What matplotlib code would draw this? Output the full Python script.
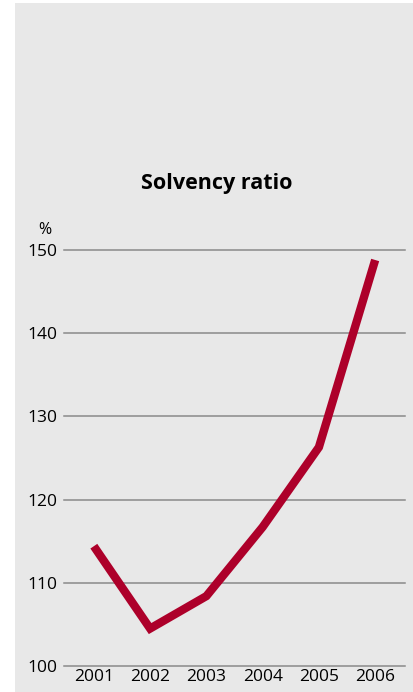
import matplotlib
matplotlib.use("Agg")
import matplotlib.pyplot as plt
from matplotlib.patches import Rectangle

years = [2001, 2002, 2003, 2004, 2005, 2006]
solvency = [114.4, 104.5, 108.4, 116.7, 126.3, 148.8]
yticks = [100, 110, 120, 130, 140, 150]
title = "Solvency ratio"
unit = "%"

W, H = 414, 692
fig = plt.figure(figsize=(W / 100, H / 100), dpi=100)
fig.patch.set_facecolor("white")
fig.patches.append(Rectangle((15 / W, -0.01), 1.0, 1.01 - 3 / H,
                             transform=fig.transFigure, facecolor="#e8e8e8",
                             edgecolor="none", zorder=-10))

font = "Open Sans"
ax = fig.add_axes([64 / W, 26 / H, (405 - 64) / W, (666 - 250) / H])
ax.set_zorder(1)
ax.set_facecolor("none")
ax.set_xlim(2000.47, 2006.53)
ax.set_ylim(100, 150)
for s in ax.spines.values():
    s.set_visible(False)
for y in yticks:
    ax.axhline(y, color="#8a8a8a", lw=1.1, clip_on=False, zorder=1)
ax.plot(years, solvency, color="#ad002a", lw=6, solid_capstyle="butt",
        solid_joinstyle="miter", clip_on=False, zorder=3)
ax.set_yticks(yticks)
ax.set_yticklabels([str(v) for v in yticks], fontfamily=font, fontsize=12.5)
ax.set_xticks(years)
ax.set_xticklabels([str(v) for v in years], fontfamily=font, fontsize=12.5)
ax.tick_params(axis="both", length=0, colors="black")
ax.tick_params(axis="y", pad=5)
ax.tick_params(axis="x", pad=2)

fig.text(45 / W, 1 - 230 / H, unit, ha="center", va="center",
         fontfamily=font, fontsize=11.5, zorder=2)
fig.text(217 / W, 1 - 184 / H, title, ha="center", va="center",
         fontfamily=font, fontsize=15.5, fontweight="bold", zorder=2)

fig.savefig("out.png", dpi=100)
